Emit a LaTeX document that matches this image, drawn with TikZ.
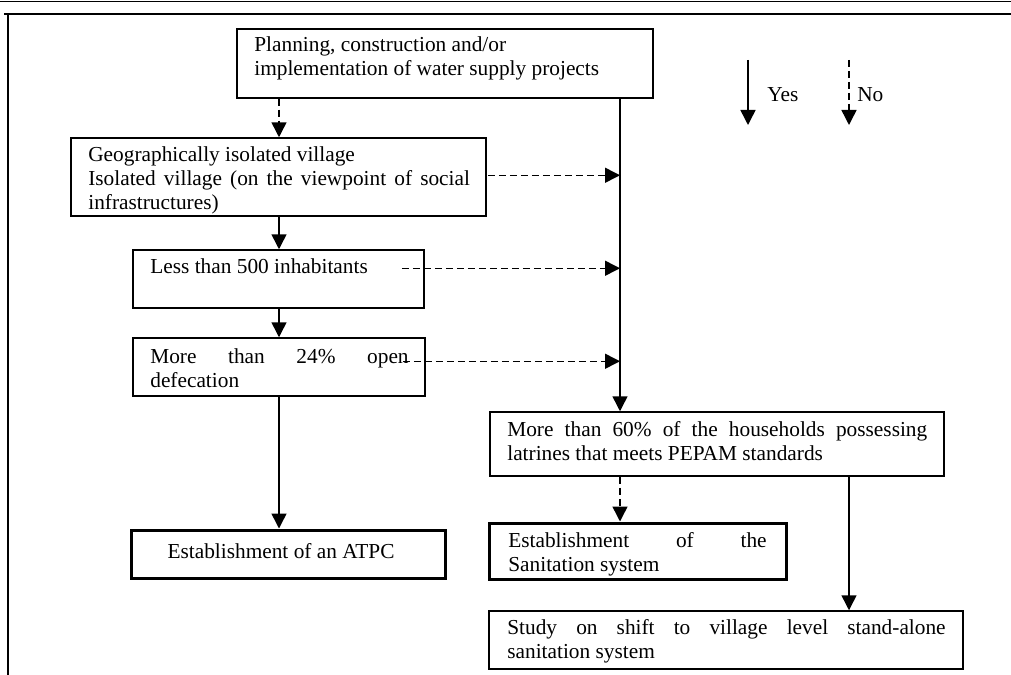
\documentclass[tikz,border=0pt]{standalone}
\usepackage{fontspec}
\setmainfont{Liberation Serif}
\usetikzlibrary{arrows.meta,fit,calc}
\begin{document}
\tolerance=10000
\hbadness=10000
\begin{tikzpicture}[x=0.6pt,y=-0.6pt,
  box/.style={draw, line width=0.9pt, inner sep=0pt},
  thickbox/.style={draw, line width=1.8pt, inner sep=0pt},
  txt/.style={inner sep=0pt, anchor=north west, font=\fontsize{12.8}{14.4}\selectfont},
  jtxt/.style={txt, align=justify},
  yes/.style={line width=0.9pt, -{Triangle[width=9pt,length=9pt]}},
  no/.style={yes, dash pattern=on 4.2pt off 2.4pt},
  frame/.style={line width=1.3pt}
]
\useasboundingbox (0,0) rectangle (1011,675);
% page frame
\draw[line width=0.7pt] (0,1.5) -- (1011,1.5);
\draw[frame] (4,14) -- (1011,14);
\draw[frame] (8,14) -- (8,675);

% column coordinates
\coordinate (xl) at (279,0);
\coordinate (xm) at (620,0);
\coordinate (xr) at (849,0);

% boxes
\node[box, fit={(237,29) (653,98)}] (plan) {};
\node[box, fit={(71,138) (486,216)}] (geo) {};
\node[box, fit={(133,250) (424,308)}] (less) {};
\node[box, fit={(133,338) (425,396)}] (m24) {};
\node[thickbox, fit={(131,530) (445,578)}] (atpc) {};
\node[box, fit={(490,412) (944,476)}] (p60) {};
\node[thickbox, fit={(489,523) (786,579)}] (san) {};
\node[box, fit={(489,611) (963,669)}] (study) {};

% texts
\node[txt, align=left] (planT) at (254,36.5) {Planning, construction and/or\\implementation of water supply projects};
\node[jtxt, text width=229pt] (geoT) at (88,146.5) {Geographically isolated village\\Isolated village (on the viewpoint of social\linebreak infrastructures)};
\node[txt] (lessT) at (150,258.5) {Less than 500 inhabitants};
\node[jtxt, text width=155pt] (m24T) at (150,348.5) {More than 24\% open\linebreak defecation};
\node[txt, anchor=center] (atpcT) at (281,551) {Establishment of an ATPC};
\node[jtxt, text width=252pt] (p60T) at (507,421.5) {More than 60\% of the households possessing\linebreak latrines that meets PEPAM standards};
\node[jtxt, text width=155pt] (sanT) at (508,532.5) {Establishment of the\linebreak Sanitation system};
\node[jtxt, text width=263pt] (studyT) at (507,619.5) {Study on shift to village level stand-alone\linebreak sanitation system};

% dashed "No" branch start points
\coordinate (gs) at ($(geo.north east)+(1,38)$);
\coordinate (ls) at ($(less.north east)+(-23,19)$);
\coordinate (ms) at ($(m24.north east)+(-23,24)$);

% connectors
\draw[no] (plan.south -| xl) -- (geo.north -| xl);
\draw[yes] (plan.south -| xm) -- (p60.north -| xm);
\draw[yes] (geo.south -| xl) -- (less.north -| xl);
\draw[yes] (less.south -| xl) -- (m24.north -| xl);
\draw[yes] (m24.south -| xl) -- (atpc.north -| xl);
\draw[no] (gs) -- (gs -| xm);
\draw[no] (ls) -- (ls -| xm);
\draw[no] (ms) -- (ms -| xm);
\draw[no] (p60.south -| xm) -- (san.north -| xm);
\draw[yes] (p60.south -| xr) -- (study.north -| xr);

% legend
\coordinate (ya) at (748,60);
\coordinate (yb) at (748,125);
\coordinate (na) at (849,60);
\coordinate (nb) at (849,125);
\draw[yes] (ya) -- (yb);
\draw[no] (na) -- (nb);
\node[txt, anchor=west] (yesT) at (767,95) {Yes};
\node[txt, anchor=west] (noT) at (857,95) {No};
\end{tikzpicture}
\end{document}
